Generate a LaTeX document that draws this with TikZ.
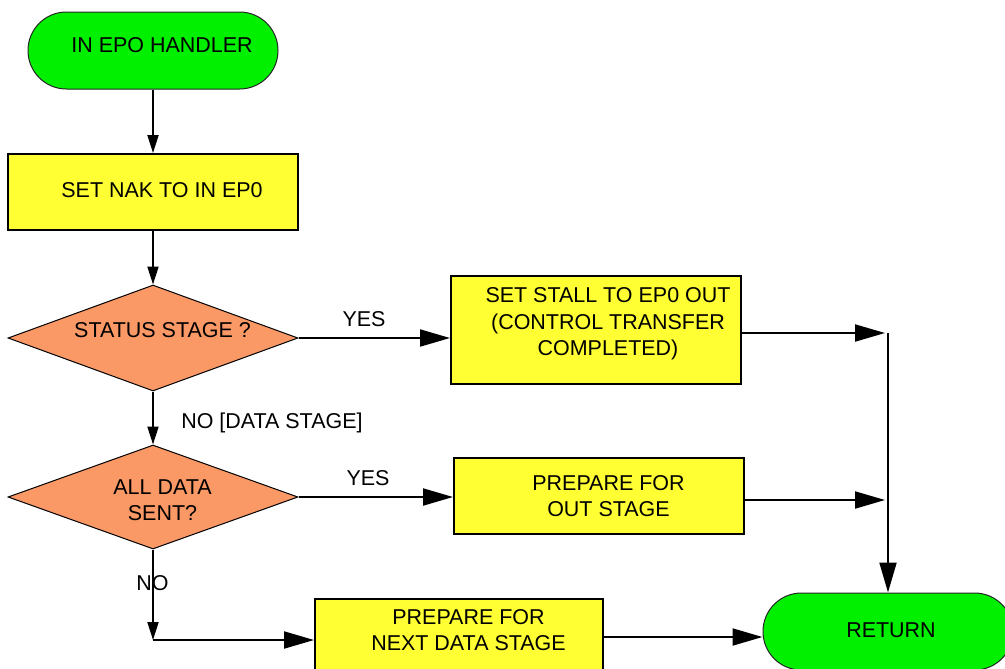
\documentclass[tikz,border=0pt]{standalone}
\usepackage{fontspec}
\setmainfont{Liberation Sans}
\usetikzlibrary{arrows.meta,shapes.geometric}
\definecolor{termgreen}{RGB}{0,240,0}
\definecolor{procyellow}{RGB}{255,255,51}
\definecolor{decorange}{RGB}{250,152,102}
\begin{document}
\begin{tikzpicture}[x=0.75pt,y=-0.75pt,
  conn/.style={line width=1.5pt},
  bigtip/.style={-{Triangle[length=22.5pt,width=12.75pt]}},
  smalltip/.style={-{Triangle[length=13.5pt,width=8.25pt]}},
  term/.style={draw=black!85, line width=0.75pt, fill=termgreen, rounded corners=28.8pt,
    minimum width=187.5pt, minimum height=57.75pt, inner sep=0pt},
  proc/.style={draw, line width=1.5pt, fill=procyellow, inner sep=0pt},
  dec/.style={draw, diamond, line width=0.75pt, fill=decorange, inner sep=0pt},
  txt/.style={font=\fontsize{16.1pt}{19.9pt}\selectfont, align=center, inner sep=0pt}]
\clip (0,0) rectangle (1005,668);
\useasboundingbox (0,0) rectangle (1005,668);

% shapes
\node[term] (start) at (153,50.5) {};
\node[txt] (tstart) at (162,45) {IN EPO HANDLER};
\node[proc, minimum width=217.5pt, minimum height=57pt] (b1) at (153,192) {};
\node[txt] (tb1) at (162,190.5) {SET NAK TO IN EP0};
\node[dec, minimum width=217.5pt, minimum height=79.5pt] (d1) at (153,338) {};
\node[txt] (td1) at (162.5,330) {STATUS STAGE ?};
\node[proc, minimum width=217.5pt, minimum height=81pt] (b2) at (596,330) {};
\node[txt] (tb2) at (608,324) {SET STALL TO EP0 OUT\\(CONTROL TRANSFER\\COMPLETED)};
\node[dec, minimum width=217.5pt, minimum height=78pt] (d2) at (153,497) {};
\node[txt] (td2) at (162.5,500) {ALL DATA\\SENT?};
\node[proc, minimum width=217.5pt, minimum height=57pt] (b3) at (599,496) {};
\node[txt] (tb3) at (608.5,496.3) {PREPARE FOR\\OUT STAGE};
\node[proc, minimum width=216pt, minimum height=57pt] (b4) at (459,637) {};
\node[txt] (tb4) at (468.5,630) {PREPARE FOR\\NEXT DATA STAGE};
\node[term] (ret) at (888,631.5) {};
\node[txt] (tret) at (891,630.5) {RETURN};

% labels
\node[txt, anchor=base] (yes1) at (364,326) {YES};
\node[txt, anchor=base] (yes2) at (368,485) {YES};
\node[txt, anchor=base west] (no1) at (181,428.3) {NO [DATA STAGE]};
\node[txt, anchor=base] (no2) at (152.5,590) {NO};

% junctions
\coordinate (j1) at (888,333);
\coordinate (j2) at (888,500);
\coordinate (c1) at (153,640);

% connectors
\draw[conn,smalltip] (start) -- (b1);
\draw[conn,smalltip] (b1) -- (d1);
\draw[conn,bigtip] (d1.east) -- (d1.east -| b2.west);
\draw[conn,smalltip] (d1) -- (d2);
\draw[conn,bigtip] (d2.east) -- (d2.east -| b3.west);
\draw[conn,smalltip] (d2) -- (c1);
\draw[conn,bigtip] (c1) -- (c1 -| b4.west);
\draw[conn,bigtip] (b2.east |- j1) -- ([xshift=-2.25pt]j1);
\draw[conn,bigtip] (b3.east |- j2) -- ([xshift=-2.25pt]j2);
\draw[conn] (j1) -- (j2);
\draw[conn,bigtip] (j2) -- (ret);
\draw[conn,bigtip] (b4.east) -- (b4.east -| ret.west);
\end{tikzpicture}
\end{document}
